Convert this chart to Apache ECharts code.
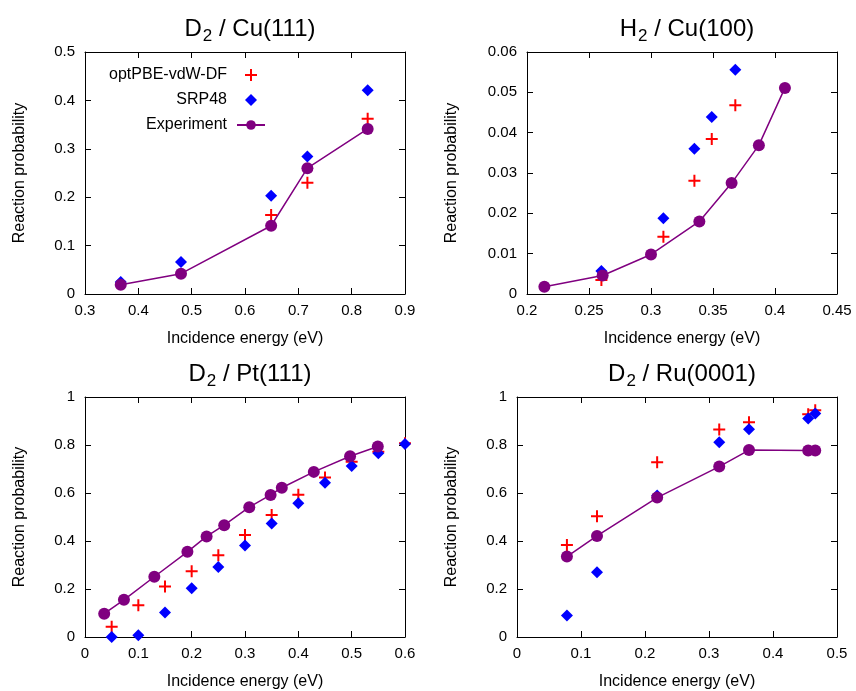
<!DOCTYPE html>
<html><head><meta charset="utf-8">
<script src="https://cdn.jsdelivr.net/npm/echarts@6/dist/echarts.min.js"></script>
<style>html,body{margin:0;padding:0;background:#fff}#c{width:856px;height:691px}</style>
</head><body><div id="c"></div>
<script>
// ---------- text ----------
const titleMain = ['D', 'H', 'D', 'D'];
const titleSub = ['2', '2', '2', '2'];
const titleRest = [' / Cu(111)', ' / Cu(100)', ' / Pt(111)', ' / Ru(0001)'];
const seriesNames = ['optPBE-vdW-DF', 'SRP48', 'Experiment'];
const xLabel = 'Incidence energy (eV)';
const yLabel = 'Reaction probability';

// ---------- axis ticks [min, max, interval] ----------
const xTicks = [[0.3, 0.9, 0.1], [0.2, 0.45, 0.05], [0, 0.6, 0.1], [0, 0.5, 0.1]];
const yTicks = [[0, 0.5, 0.1], [0, 0.06, 0.01], [0, 1, 0.2], [0, 1, 0.2]];

// ---------- Panel 1: D2 / Cu(111) ----------
const cu111OptX = [0.649, 0.717, 0.830];
const cu111OptY = [0.163, 0.230, 0.362];
const cu111SrpX = [0.367, 0.480, 0.649, 0.717, 0.830];
const cu111SrpY = [0.025, 0.066, 0.203, 0.284, 0.421];
const cu111ExpX = [0.367, 0.480, 0.649, 0.717, 0.830];
const cu111ExpY = [0.019, 0.042, 0.141, 0.260, 0.341];

// ---------- Panel 2: H2 / Cu(100) ----------
const cu100OptX = [0.260, 0.310, 0.335, 0.349, 0.368];
const cu100OptY = [0.0035, 0.0142, 0.0281, 0.0384, 0.0468];
const cu100SrpX = [0.260, 0.310, 0.335, 0.349, 0.368];
const cu100SrpY = [0.0057, 0.0188, 0.0360, 0.0439, 0.0556];
const cu100ExpX = [0.214, 0.261, 0.300, 0.339, 0.365, 0.387, 0.408];
const cu100ExpY = [0.0018, 0.0046, 0.0098, 0.0180, 0.0275, 0.0369, 0.0511];

// ---------- Panel 3: D2 / Pt(111) ----------
const pt111OptX = [0.05, 0.10, 0.15, 0.20, 0.25, 0.30, 0.35, 0.40, 0.45, 0.50, 0.55, 0.60];
const pt111OptY = [0.043, 0.132, 0.210, 0.274, 0.341, 0.425, 0.508, 0.593, 0.665, 0.730, 0.772, 0.807];
const pt111SrpX = [0.05, 0.10, 0.15, 0.20, 0.25, 0.30, 0.35, 0.40, 0.45, 0.50, 0.55, 0.60];
const pt111SrpY = [0.000, 0.007, 0.102, 0.203, 0.292, 0.381, 0.473, 0.557, 0.643, 0.712, 0.766, 0.804];
const pt111ExpX = [0.036, 0.073, 0.130, 0.192, 0.228, 0.261, 0.308, 0.348, 0.369, 0.429, 0.497, 0.549];
const pt111ExpY = [0.097, 0.155, 0.251, 0.355, 0.419, 0.466, 0.541, 0.592, 0.622, 0.688, 0.753, 0.794];

// ---------- Panel 4: D2 / Ru(0001) ----------
const ruOptX = [0.078, 0.125, 0.219, 0.316, 0.3625, 0.455, 0.466];
const ruOptY = [0.383, 0.503, 0.728, 0.865, 0.895, 0.928, 0.945];
const ruSrpX = [0.078, 0.125, 0.219, 0.316, 0.3625, 0.455, 0.466];
const ruSrpY = [0.090, 0.270, 0.590, 0.811, 0.866, 0.910, 0.931];
const ruExpX = [0.078, 0.125, 0.219, 0.316, 0.3625, 0.455, 0.466];
const ruExpY = [0.335, 0.421, 0.581, 0.710, 0.779, 0.777, 0.777];

const panels = [
  [cu111OptX, cu111OptY, cu111SrpX, cu111SrpY, cu111ExpX, cu111ExpY],
  [cu100OptX, cu100OptY, cu100SrpX, cu100SrpY, cu100ExpX, cu100ExpY],
  [pt111OptX, pt111OptY, pt111SrpX, pt111SrpY, pt111ExpX, pt111ExpY],
  [ruOptX, ruOptY, ruSrpX, ruSrpY, ruExpX, ruExpY]
];

// ---------- layout / style ----------
const FONT = '"Liberation Sans", Arial, Helvetica, sans-serif';
const grids = [
  {left: 85, top: 52, width: 320, height: 242},
  {left: 527, top: 52, width: 310, height: 242},
  {left: 85, top: 397, width: 320, height: 242},
  {left: 517, top: 397, width: 320, height: 242}
];
const yNameGap = [57, 67, 57, 57];
const RED = '#ff0000', BLUE = '#0000ff', PURPLE = '#800080';
const PLUS = 'path://M0,5H12V7H0Z M5,0H7V12H5Z';
const DIAMOND_ICON = 'path://M6,0L12,6L6,12L0,6Z';

const zip = (xs, ys) => xs.map((x, i) => [x, ys[i]]);

const title = [], xAxis = [], yAxis = [], series = [];
grids.forEach((g, i) => {
  title.push({
    text: '{m|' + titleMain[i] + '}{s|' + titleSub[i] + '}{m|' + titleRest[i] + '}',
    left: g.left + g.width / 2,
    top: i < 2 ? 12 : 357,
    textAlign: 'center',
    textStyle: {
      fontWeight: 'normal',
      rich: {
        m: {fontFamily: FONT, fontSize: 24, fontWeight: 'normal', color: '#000', verticalAlign: 'top', lineHeight: 25},
        s: {fontFamily: FONT, fontSize: 17, fontWeight: 'normal', color: '#000', verticalAlign: 'top', lineHeight: 18, padding: [11, 0, 0, 1]}
      }
    }
  });
  const axLine = {show: true, onZero: false, lineStyle: {color: '#000', width: 1}};
  const tick = {show: true, inside: true, length: 6, lineStyle: {color: '#000', width: 1}};
  const lab = {color: '#000', fontFamily: FONT, fontSize: 15};
  const [xmin, xmax, xint] = xTicks[i];
  const [ymin, ymax, yint] = yTicks[i];
  xAxis.push({
    type: 'value', gridIndex: i, min: xmin, max: xmax, interval: xint, position: 'bottom',
    axisLine: axLine, axisTick: tick, splitLine: {show: false},
    axisLabel: Object.assign({margin: 9}, lab),
    name: xLabel, nameLocation: 'middle', nameGap: 37,
    nameTextStyle: {color: '#000', fontFamily: FONT, fontSize: 16}
  });
  xAxis.push({
    type: 'value', gridIndex: i, min: xmin, max: xmax, interval: xint, position: 'top',
    axisLine: axLine, axisTick: tick, splitLine: {show: false}, axisLabel: {show: false}
  });
  yAxis.push({
    type: 'value', gridIndex: i, min: ymin, max: ymax, interval: yint, position: 'left',
    axisLine: axLine, axisTick: tick, splitLine: {show: false},
    axisLabel: Object.assign({margin: 10}, lab),
    name: yLabel, nameLocation: 'middle', nameGap: yNameGap[i],
    nameTextStyle: {color: '#000', fontFamily: FONT, fontSize: 16}
  });
  yAxis.push({
    type: 'value', gridIndex: i, min: ymin, max: ymax, interval: yint, position: 'right',
    axisLine: axLine, axisTick: tick, splitLine: {show: false}, axisLabel: {show: false}
  });
  const d = panels[i];
  series.push({
    name: seriesNames[0], type: 'scatter', xAxisIndex: 2 * i, yAxisIndex: 2 * i,
    symbol: PLUS, symbolSize: 12, symbolKeepAspect: true,
    itemStyle: {color: RED, opacity: 1}, data: zip(d[0], d[1]), z: 2
  });
  series.push({
    name: seriesNames[1], type: 'scatter', xAxisIndex: 2 * i, yAxisIndex: 2 * i,
    symbol: 'diamond', symbolSize: [12, 12],
    itemStyle: {color: BLUE, opacity: 1}, data: zip(d[2], d[3]), z: 3
  });
  series.push({
    name: seriesNames[2], type: 'line', xAxisIndex: 2 * i, yAxisIndex: 2 * i,
    symbol: 'circle', symbolSize: 12, showSymbol: true,
    itemStyle: {color: PURPLE, opacity: 1}, lineStyle: {color: PURPLE, width: 1.5},
    data: zip(d[4], d[5]), z: 4
  });
});

const chart = echarts.init(document.getElementById('c'), null, {renderer: 'canvas'});
chart.setOption({
  animation: false,
  backgroundColor: '#fff',
  title: title,
  grid: grids,
  xAxis: xAxis,
  yAxis: yAxis,
  legend: {
    data: [
      {name: seriesNames[0], icon: PLUS},
      {name: seriesNames[1], icon: DIAMOND_ICON},
      {name: seriesNames[2]}
    ],
    orient: 'vertical',
    align: 'right',
    right: 856 - 271,
    top: 62,
    itemWidth: 28,
    itemHeight: 12,
    itemGap: 9,
    symbolKeepAspect: true,
    selectedMode: false,
    textStyle: {color: '#000', fontFamily: FONT, fontSize: 16, padding: [0, 5, 0, 0]}
  },
  series: series
});
</script>
</body></html>
